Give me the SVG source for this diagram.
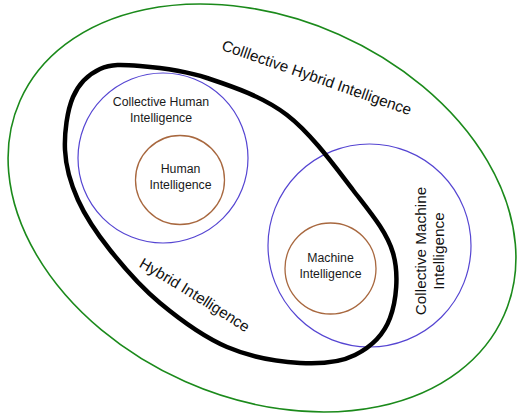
<svg xmlns="http://www.w3.org/2000/svg" width="520" height="420" viewBox="0 0 520 420">
<style>
.green{fill:none;stroke:#1b8a1b;stroke-width:1.6}
.blue{fill:none;stroke:#5545d2;stroke-width:1.2}
.brown{fill:none;stroke:#a8683f;stroke-width:1.3}
.black{fill:none;stroke:#000;stroke-width:4.5;stroke-linejoin:round}
.lbl{font-family:"Liberation Sans",Arial,sans-serif;font-size:12.3px;fill:#1a1a1a;text-anchor:middle}
.big{font-family:"Liberation Sans",Arial,sans-serif;font-size:15.3px;fill:#111}
</style>
<defs>
<path id="hiPath" d="M138.5,266.5 Q190,296 258,341"/>
</defs>
<rect width="520" height="420" fill="#fff"/>
<g id="collective-hybrid-intelligence">
<ellipse class="green" cx="262" cy="208" rx="264.7" ry="189.8" transform="rotate(23.9 262 208)"/>
<text class="big" text-anchor="middle" transform="translate(315,82.5) rotate(19.2)">Colllective Hybrid Intelligence</text>
</g>
<g id="collective-human-intelligence">
<circle class="blue" cx="163" cy="158" r="85"/>
<text class="lbl" x="161" y="105.5">Collective Human</text>
<text class="lbl" x="161" y="121.5">Intelligence</text>
</g>
<g id="human-intelligence">
<circle class="brown" cx="180" cy="180" r="44.5"/>
<text class="lbl" x="180.5" y="173">Human</text>
<text class="lbl" x="180.5" y="189">Intelligence</text>
</g>
<g id="collective-machine-intelligence">
<circle class="blue" cx="369.5" cy="245.5" r="101.5"/>
<text class="big" text-anchor="middle" transform="translate(426,251) rotate(-90)"><tspan x="0" y="0">Collective Machine</tspan><tspan x="0" y="17.5">Intelligence</tspan></text>
</g>
<g id="machine-intelligence">
<circle class="brown" cx="330.5" cy="268.5" r="45.5"/>
<text class="lbl" x="330.5" y="262">Machine</text>
<text class="lbl" x="330.5" y="278">Intelligence</text>
</g>
<g id="hybrid-intelligence">
<path class="black" d="M65,150 C64.2,132.8 67.2,110.5 73,97 C78.8,83.5 88.8,74.2 100,69 C111.2,63.8 122.2,64.5 140,66 C157.8,67.5 182.5,69.8 207,78 C231.5,86.2 262.7,96.3 287,115 C311.3,133.7 335.3,167 353,190 C370.7,213 386.8,231.7 393,253 C399.2,274.3 396.3,301 390,318 C383.7,335 370,347.5 355,355 C340,362.5 321.3,364.3 300,363 C278.7,361.7 250.3,357 227,347 C203.7,337 179.5,319.2 160,303 C140.5,286.8 123.7,267.2 110,250 C96.3,232.8 85.5,216.7 78,200 C70.5,183.3 65.8,167.2 65,150 Z"/>
<text class="big"><textPath href="#hiPath">Hybrid Intelligence</textPath></text>
</g>
<g id="connectors"/>
</svg>
